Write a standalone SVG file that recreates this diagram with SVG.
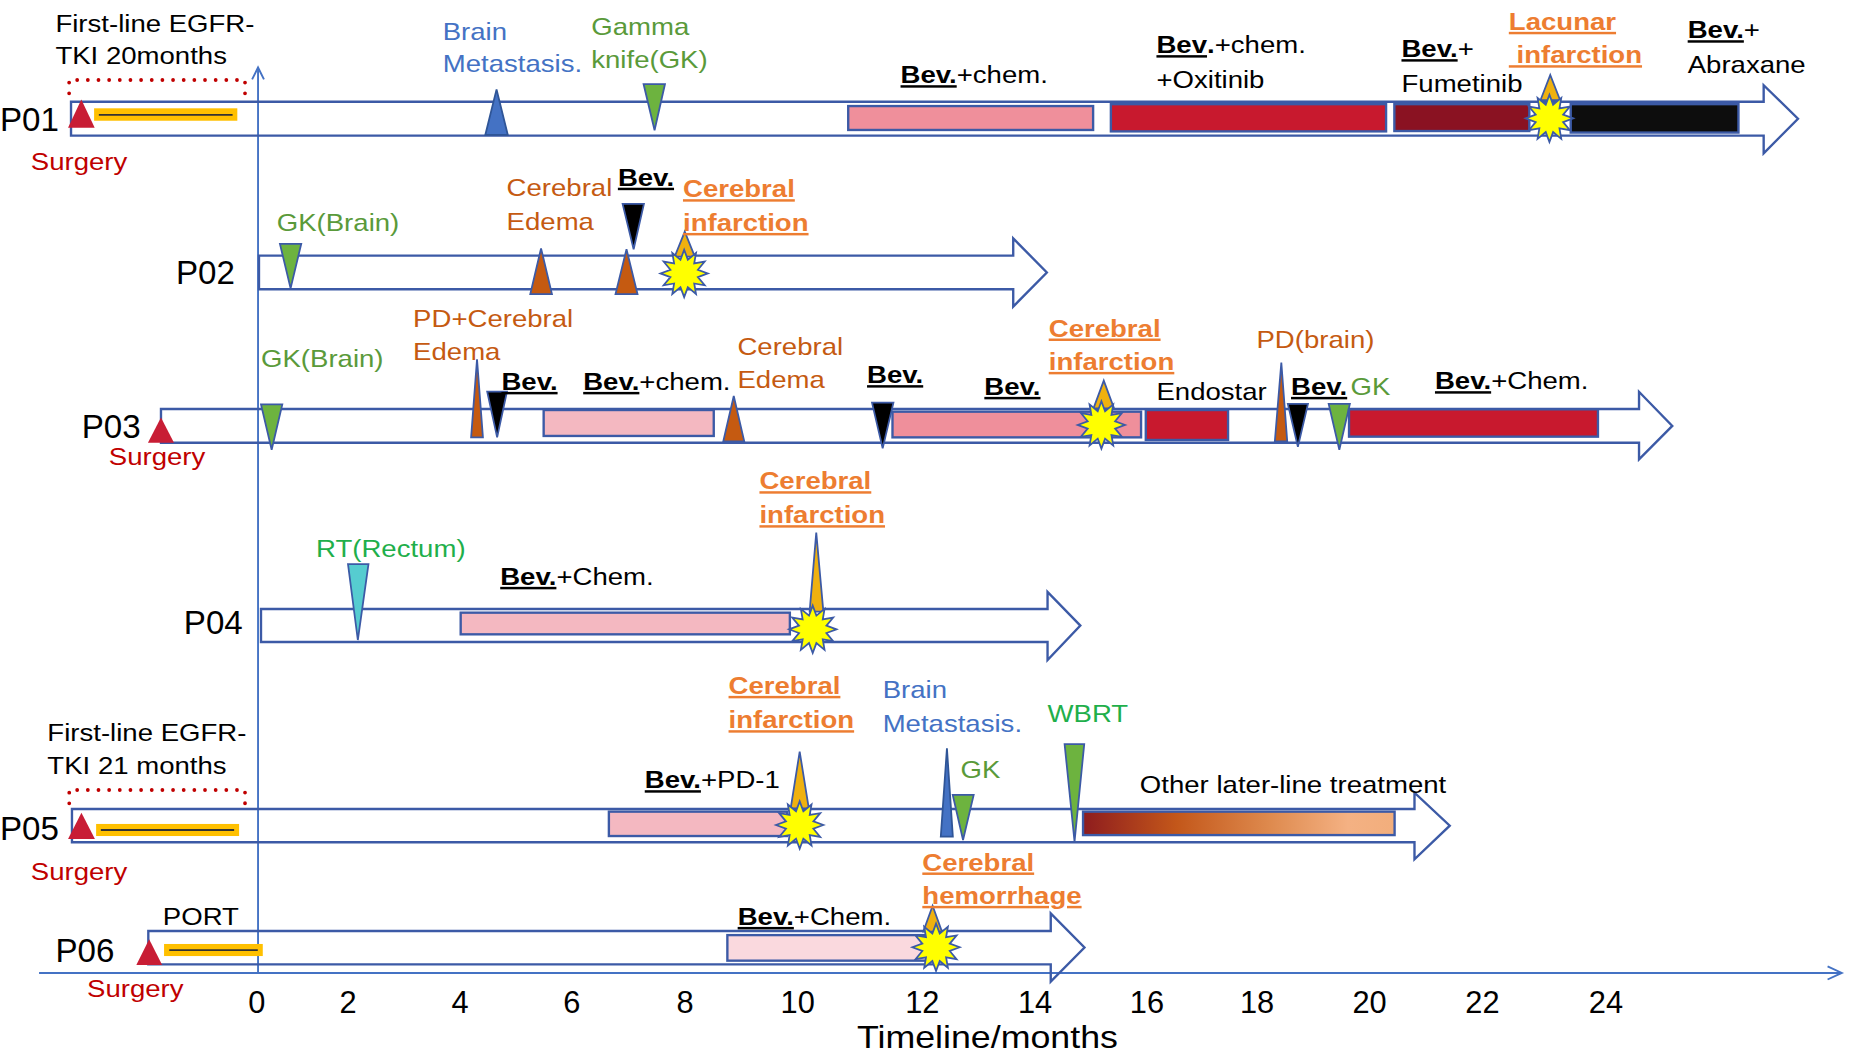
<svg xmlns="http://www.w3.org/2000/svg" xmlns:xlink="http://www.w3.org/1999/xlink" width="1856" height="1056" viewBox="0 0 1856 1056">
<style>
.band{fill:none;stroke:#3C5AA6;stroke-width:2}
.ax{fill:none;stroke:#4472C4;stroke-width:1.6}
.bx{stroke:#3C5AA6;stroke-width:2}
.pk1{fill:#EF8F9B}.pk2{fill:#F4B8C1}.pk3{fill:#FAD9DE}.rd{fill:#C8192E}.dr{fill:#8A1222}.bk{fill:#0D0D0D}.gr{fill:url(#grad)}
.tri{stroke:#3C5AA6;stroke-width:1.5}
.g{fill:#6DB33F}.br{fill:#C55A11}.k{fill:#000}.au{fill:#EFB10F}.cy{fill:#56CCD0}.bl{fill:#4472C4}
.sx{fill:#C81D35}
.yb{fill:#FFC000}
.yl{stroke:#333;stroke-width:1.5}
.dot{fill:none;stroke:#C00000;stroke-width:3.2;stroke-linecap:round;stroke-dasharray:0 9}
.star{fill:#FFFF00;stroke:#3C5AA6;stroke-width:1.5}
text{font-family:"Liberation Sans",Arial,sans-serif}
.lb{font-size:20.8px}
.k0{fill:#000}.sg{fill:#C00000}.bt{fill:#4472C4}.gt{fill:#5A9A3A}.brt{fill:#C55A11}.gg{fill:#1FAF4B}
.oi{fill:#ED7D31;font-weight:bold;text-decoration:underline}
.bev{font-weight:bold;text-decoration:underline}
.row{font-size:28px;fill:#000}
.tk{font-size:26px;text-anchor:middle;fill:#000}
</style>
<defs>
<linearGradient id="grad" x1="0" y1="0" x2="1" y2="0">
<stop offset="0" stop-color="#8E1C1E"/>
<stop offset="0.3" stop-color="#C3571A"/>
<stop offset="0.6" stop-color="#DE8A4E"/>
<stop offset="0.85" stop-color="#F4B183"/>
<stop offset="1" stop-color="#F2AE7C"/>
</linearGradient>
<polygon id="star" class="star" points="20,0 11.59,3.11 17.32,10 8.49,8.49 10,17.32 3.11,11.59 0,20 -3.11,11.59 -10,17.32 -8.49,8.49 -17.32,10 -11.59,3.11 -20,0 -11.59,-3.11 -17.32,-10 -8.49,-8.49 -10,-17.32 -3.11,-11.59 0,-20 3.11,-11.59 10,-17.32 8.49,-8.49 17.32,-10 11.59,-3.11"/>
</defs>
<rect width="1856" height="1056" fill="#fff"/>
<g transform="scale(1.18367)">

<g id="connectors">
<path class="ax" d="M218,822 L218,57"/>
<path class="ax" d="M213,67 L218,57 L223,67"/>
<path class="ax" d="M33,822 L1556,822"/>
<path class="ax" d="M1544,816.5 L1556,822 L1544,827.5"/>
</g>

<g id="axis-labels">
<text class="tk" x="217" y="855.5">0</text>
<text class="tk" x="294" y="855.5">2</text>
<text class="tk" x="388.6" y="855.5">4</text>
<text class="tk" x="483" y="855.5">6</text>
<text class="tk" x="578.7" y="855.5">8</text>
<text class="tk" x="673.9" y="855.5">10</text>
<text class="tk" x="779.2" y="855.5">12</text>
<text class="tk" x="874.4" y="855.5">14</text>
<text class="tk" x="969" y="855.5">16</text>
<text class="tk" x="1062" y="855.5">18</text>
<text class="tk" x="1157" y="855.5">20</text>
<text class="tk" x="1252.4" y="855.5">22</text>
<text class="tk" x="1356.7" y="855.5">24</text>
<text class="k0" font-size="26.5" transform="translate(724 885) scale(1.14 1)">Timeline/months</text>
</g>

<g id="P01">
<polygon class="band" points="60,86 1490,86 1490,72 1519,100.3 1490,129.6 1490,114.6 60,114.6"/>
<path class="dot" d="M58.4,78.8 L58.4,67.6 L207,67.6 L207,78.8"/>
<polygon class="sx" points="57.5,108 80,108 68.7,84"/>
<rect class="yb" x="79.5" y="91.5" width="121" height="10.5"/>
<line class="yl" x1="83.5" y1="97" x2="196.5" y2="97"/>
<polygon class="tri bl" points="410,114 429,114 419.5,75.5" style="stroke:#2F5597"/>
<polygon class="tri g" points="543.7,71 561.8,71 553,110"/>
<rect class="bx pk1" x="716.6" y="89.6" width="206.9" height="20.2"/>
<rect class="bx rd" x="938.5" y="88" width="232.5" height="23"/>
<rect class="bx dr" x="1178" y="88" width="114" height="22.7"/>
<rect class="bx bk" x="1327" y="88" width="141.7" height="24"/>
<polygon class="tri au" points="1301.5,84.5 1318,84.5 1309.7,63.4"/>
<use xlink:href="#star" transform="translate(1309 100)"/>
<text class="row" x="0" y="111">P01</text>
<text class="lb k0" transform="translate(46.8 27) scale(1.12 1)">First-line EGFR-</text>
<text class="lb k0" transform="translate(46.8 54) scale(1.12 1)">TKI 20months</text>
<text class="lb sg" transform="translate(26 143.6) scale(1.12 1)">Surgery</text>
<text class="lb bt" transform="translate(374 33.8) scale(1.12 1)">Brain</text>
<text class="lb bt" transform="translate(374 60.6) scale(1.12 1)">Metastasis.</text>
<text class="lb gt" transform="translate(499.5 29.6) scale(1.12 1)">Gamma</text>
<text class="lb gt" transform="translate(499.5 57.7) scale(1.12 1)">knife(GK)</text>
<text class="lb k0" transform="translate(760.8 70.4) scale(1.12 1)"><tspan class="bev">Bev.</tspan>+chem.</text>
<text class="lb k0" transform="translate(977 45) scale(1.12 1)"><tspan class="bev">Bev</tspan><tspan font-weight="bold">.</tspan>+chem.</text>
<text class="lb k0" transform="translate(977 74.6) scale(1.12 1)">+Oxitinib</text>
<text class="lb k0" transform="translate(1184 48.4) scale(1.12 1)"><tspan class="bev">Bev.</tspan>+</text>
<text class="lb k0" transform="translate(1184 77.5) scale(1.12 1)">Fumetinib</text>
<text class="lb oi" transform="translate(1274.7 25.3) scale(1.12 1)">Lacunar</text>
<text class="lb oi" transform="translate(1274.7 53.5) scale(1.12 1)">&#160;infarction</text>
<text class="lb k0" transform="translate(1425.8 32.4) scale(1.12 1)"><tspan class="bev">Bev.</tspan>+</text>
<text class="lb k0" transform="translate(1425.8 61.4) scale(1.12 1)">Abraxane</text>
</g>

<g id="P02">
<polygon class="band" points="218.8,216 856,216 856,201.4 884.4,230.2 856,259 856,244.4 218.8,244.4"/>
<polygon class="tri g" points="236.5,206 254.5,206 245.5,243.6"/>
<polygon class="tri br" points="448,248.4 466.3,248.4 457.1,209.8"/>
<polygon class="tri br" points="520,248.4 538.6,248.4 529.3,210.6"/>
<polygon class="tri k" points="526,172.3 544,172.3 535.3,210.6"/>
<polygon class="tri au" points="570,216.8 587,216.8 578.5,195.7"/>
<use xlink:href="#star" transform="translate(578 231)"/>
<text class="row" x="148.7" y="240">P02</text>
<text class="lb gt" transform="translate(233.8 194.9) scale(1.12 1)">GK(Brain)</text>
<text class="lb brt" transform="translate(428 166) scale(1.12 1)">Cerebral</text>
<text class="lb brt" transform="translate(428 194.3) scale(1.12 1)">Edema</text>
<text class="lb k0" transform="translate(522 157) scale(1.12 1)"><tspan class="bev">Bev.</tspan></text>
<text class="lb oi" transform="translate(577 166.7) scale(1.12 1)">Cerebral</text>
<text class="lb oi" transform="translate(577 195.2) scale(1.12 1)">infarction</text>
</g>

<g id="P03">
<polygon class="band" points="136,345.5 1384.7,345.5 1384.7,331 1412.8,359.8 1384.7,388 1384.7,374 136,374"/>
<polygon class="sx" points="125,374 147,374 136,352.8"/>
<polygon class="tri g" points="220.5,341.6 238.5,341.6 229.5,380"/>
<polygon class="tri br" points="398,369.5 408,369.5 403,303.6"/>
<polygon class="tri k" points="411.6,330.9 428.3,330.9 420,369.5"/>
<rect class="bx pk2" x="459.3" y="346.4" width="143.7" height="21.9"/>
<polygon class="tri br" points="611,373 628.8,373 619.9,334.6"/>
<polygon class="tri k" points="736.7,340.2 754.8,340.2 745.7,378.8"/>
<rect class="bx pk1" x="754" y="347.8" width="210" height="21.7"/>
<polygon class="tri au" points="923.8,345 941.2,345 932.5,321.6"/>
<use xlink:href="#star" transform="translate(930.5 359)"/>
<rect class="bx rd" x="968" y="346.4" width="69.5" height="25.3"/>
<polygon class="tri br" points="1077,373 1087.5,373 1082.5,306.4"/>
<polygon class="tri k" points="1088,341.3 1105,341.3 1096.5,377.4"/>
<polygon class="tri g" points="1122.5,341.3 1140.4,341.3 1131.5,380"/>
<rect class="bx rd" x="1139.7" y="345.8" width="210.3" height="23.1"/>
<text class="row" x="69" y="370.3">P03</text>
<text class="lb sg" transform="translate(91.9 392.9) scale(1.12 1)">Surgery</text>
<text class="lb gt" transform="translate(220.5 310.3) scale(1.12 1)">GK(Brain)</text>
<text class="lb brt" transform="translate(349 276) scale(1.12 1)">PD+Cerebral</text>
<text class="lb brt" transform="translate(349 304) scale(1.12 1)">Edema</text>
<text class="lb k0" transform="translate(423.6 329.5) scale(1.12 1)"><tspan class="bev">Bev.</tspan></text>
<text class="lb k0" transform="translate(492.7 329.5) scale(1.12 1)"><tspan class="bev">Bev.</tspan>+chem.</text>
<text class="lb brt" transform="translate(623 300) scale(1.12 1)">Cerebral</text>
<text class="lb brt" transform="translate(623 328) scale(1.12 1)">Edema</text>
<text class="lb k0" transform="translate(732.5 323.8) scale(1.12 1)"><tspan class="bev">Bev.</tspan></text>
<text class="lb k0" transform="translate(831.6 333.7) scale(1.12 1)"><tspan class="bev">Bev.</tspan></text>
<text class="lb oi" transform="translate(886 284.4) scale(1.12 1)">Cerebral</text>
<text class="lb oi" transform="translate(886 312.6) scale(1.12 1)">infarction</text>
<text class="lb k0" transform="translate(977 338) scale(1.12 1)">Endostar</text>
<text class="lb brt" transform="translate(1061.5 294.3) scale(1.12 1)">PD(brain)</text>
<text class="lb k0" transform="translate(1090.7 333.7) scale(1.12 1)"><tspan class="bev">Bev.</tspan></text>
<text class="lb gt" transform="translate(1141 333.7) scale(1.12 1)">GK</text>
<text class="lb k0" transform="translate(1212.3 328.9) scale(1.12 1)"><tspan class="bev">Bev.</tspan>+Chem.</text>
</g>

<g id="P04">
<polygon class="band" points="220.5,514.5 885,514.5 885,500 912.7,528.5 885,557.6 885,542.4 220.5,542.4"/>
<polygon class="tri cy" points="294,476.5 311.3,476.5 302.3,540.7"/>
<rect class="bx pk2" x="389.2" y="517.6" width="278.1" height="18.3"/>
<polygon class="tri au" points="684,516.8 695.6,516.8 689.6,450"/>
<use xlink:href="#star" transform="translate(686.6 531.7)"/>
<text class="row" x="155.3" y="535.6">P04</text>
<text class="lb gg" transform="translate(267 470.8) scale(1.12 1)">RT(Rectum)</text>
<text class="lb k0" transform="translate(422.6 494.2) scale(1.12 1)"><tspan class="bev">Bev.</tspan>+Chem.</text>
<text class="lb oi" transform="translate(641.6 413.4) scale(1.12 1)">Cerebral</text>
<text class="lb oi" transform="translate(641.6 442.1) scale(1.12 1)">infarction</text>
</g>

<g id="P05">
<polygon class="band" points="60.8,683.5 1195,683.5 1195,669.7 1224.8,697.6 1195,726 1195,711.6 60.8,711.6"/>
<path class="dot" d="M58.5,678.7 L58.5,667.4 L207,667.4 L207,678.7"/>
<polygon class="sx" points="57.5,708.8 80.2,708.8 68.8,686.6"/>
<rect class="yb" x="81.2" y="696.1" width="120.8" height="10.2"/>
<line class="yl" x1="85.2" y1="701.2" x2="197.8" y2="701.2"/>
<rect class="bx pk2" x="514.4" y="685.7" width="150.6" height="20.6"/>
<polygon class="tri au" points="668,682.9 683.3,682.9 675.6,635"/>
<use xlink:href="#star" transform="translate(675.6 697)"/>
<polygon class="tri bl" points="794.8,706.8 805,706.8 800,632.2" style="stroke:#2F5597"/>
<polygon class="tri g" points="804.9,671.6 822.6,671.6 813.6,709.7"/>
<polygon class="tri g" points="899.4,628.6 916,628.6 907.8,711"/>
<rect class="bx gr" x="915" y="685.7" width="263.2" height="19.8"/>
<text class="row" x="0" y="709.7">P05</text>
<text class="lb k0" transform="translate(40 626) scale(1.12 1)">First-line EGFR-</text>
<text class="lb k0" transform="translate(40 654.2) scale(1.12 1)">TKI 21 months</text>
<text class="lb sg" transform="translate(26 743.4) scale(1.12 1)">Surgery</text>
<text class="lb k0" transform="translate(544.7 666) scale(1.12 1)"><tspan class="bev">Bev.</tspan>+PD-1</text>
<text class="lb oi" transform="translate(615.5 586.3) scale(1.12 1)">Cerebral</text>
<text class="lb oi" transform="translate(615.5 615.3) scale(1.12 1)">infarction</text>
<text class="lb bt" transform="translate(745.7 590) scale(1.12 1)">Brain</text>
<text class="lb bt" transform="translate(745.7 618.1) scale(1.12 1)">Metastasis.</text>
<text class="lb gg" transform="translate(885 609.7) scale(1.12 1)">WBRT</text>
<text class="lb gt" transform="translate(811.5 657) scale(1.12 1)">GK</text>
<text class="lb k0" transform="translate(963 670.2) scale(1.12 1)">Other later-line treatment</text>
</g>

<g id="P06">
<polygon class="band" points="125.3,786.5 887.7,786.5 887.7,771.6 916.2,800.5 887.7,829.3 887.7,814.7 125.3,814.7"/>
<polygon class="sx" points="115.2,815.3 137,815.3 126,793.6"/>
<rect class="yb" x="138.6" y="797.5" width="83.4" height="10.2"/>
<line class="yl" x1="143" y1="802.6" x2="217.8" y2="802.6"/>
<rect class="bx pk3" x="614.5" y="790" width="170.5" height="21.6"/>
<polygon class="tri au" points="780,787.1 795.8,787.1 787.9,765.2"/>
<use xlink:href="#star" transform="translate(790.8 800.3)"/>
<text class="row" x="46.8" y="812.4">P06</text>
<text class="lb k0" transform="translate(137.6 781.5) scale(1.12 1)">PORT</text>
<text class="lb sg" transform="translate(73.5 842) scale(1.12 1)">Surgery</text>
<text class="lb k0" transform="translate(623.2 781.5) scale(1.12 1)"><tspan class="bev">Bev.</tspan>+Chem.</text>
<text class="lb oi" transform="translate(779.2 735.5) scale(1.12 1)">Cerebral</text>
<text class="lb oi" transform="translate(779.2 763.7) scale(1.12 1)">hemorrhage</text>
</g>

</g>
</svg>
